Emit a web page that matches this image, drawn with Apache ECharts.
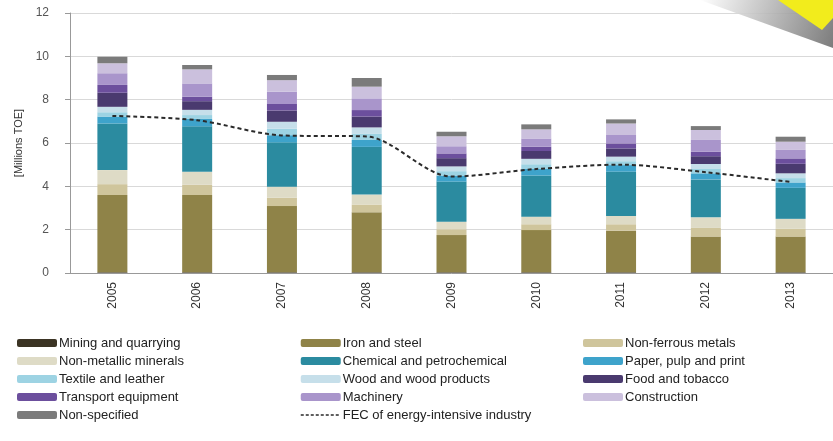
<!DOCTYPE html>
<html>
<head>
<meta charset="utf-8">
<script src="https://cdn.jsdelivr.net/npm/echarts@6/dist/echarts.min.js"></script>
<style>html,body{margin:0;padding:0;background:#fff;}#c{width:833px;height:441px;}</style>
</head>
<body>
<div id="c"></div>
<script>
const years = ['2005','2006','2007','2008','2009','2010','2011','2012','2013'];
const yTicks = [0, 2, 4, 6, 8, 10, 12];
const mining       = [0.03, 0.03, 0.03, 0.03, 0.03, 0.03, 0.03, 0.03, 0.03];
const ironSteel    = [3.57, 3.57, 3.06, 2.77, 1.72, 1.95, 1.92, 1.65, 1.65];
const nonFerrous   = [0.50, 0.47, 0.39, 0.36, 0.27, 0.27, 0.30, 0.40, 0.36];
const nonMetallic  = [0.65, 0.60, 0.50, 0.46, 0.35, 0.35, 0.38, 0.49, 0.46];
const chemical     = [2.15, 2.10, 2.05, 2.20, 1.85, 1.90, 2.05, 1.75, 1.43];
const paper        = [0.32, 0.34, 0.33, 0.32, 0.28, 0.30, 0.30, 0.28, 0.25];
const textile      = [0.20, 0.18, 0.30, 0.28, 0.20, 0.22, 0.18, 0.20, 0.20];
const wood         = [0.25, 0.24, 0.32, 0.30, 0.22, 0.25, 0.21, 0.23, 0.22];
const food         = [0.65, 0.40, 0.52, 0.50, 0.38, 0.36, 0.38, 0.36, 0.44];
const transport    = [0.36, 0.21, 0.30, 0.30, 0.22, 0.20, 0.23, 0.21, 0.25];
const machinery    = [0.54, 0.61, 0.57, 0.54, 0.33, 0.38, 0.39, 0.54, 0.39];
const construction = [0.46, 0.65, 0.53, 0.54, 0.46, 0.42, 0.53, 0.46, 0.38];
const nonSpecified = [0.30, 0.20, 0.24, 0.40, 0.21, 0.23, 0.19, 0.18, 0.23];
const fec          = [7.25, 7.05, 6.35, 6.30, 4.45, 4.80, 5.00, 4.65, 4.20];

const barDefs = [
  ['Mining and quarrying', mining, '#3b3424'],
  ['Iron and steel', ironSteel, '#8f8348'],
  ['Non-ferrous metals', nonFerrous, '#cfc59c'],
  ['Non-metallic minerals', nonMetallic, '#dedbc6'],
  ['Chemical and petrochemical', chemical, '#2b8ba0'],
  ['Paper, pulp and print', paper, '#3ea3cb'],
  ['Textile and leather', textile, '#9dd3e3'],
  ['Wood and wood products', wood, '#c6dfea'],
  ['Food and tobacco', food, '#4a3a6f'],
  ['Transport equipment', transport, '#6c4f9d'],
  ['Machinery', machinery, '#a995cb'],
  ['Construction', construction, '#cbc0dd'],
  ['Non-specified', nonSpecified, '#7b7b7b']
];
const FEC = 'FEC of energy-intensive industry';

const series = barDefs.map(d => ({
  name: d[0], type: 'bar', stack: 'total', data: d[1], barWidth: 30,
  itemStyle: {color: d[2]}, emphasis: {disabled: true}
}));
series.push({
  name: FEC, type: 'line', data: fec, smooth: 0.3, symbol: 'none', z: 10,
  lineStyle: {color: '#2a2a2a', width: 2, type: [4, 3]}, itemStyle: {color: '#2a2a2a'}
});

const font = 'Liberation Sans, Arial, sans-serif';
const legendBase = {
  orient: 'vertical', itemWidth: 40, itemHeight: 8, itemGap: 4,
  textStyle: {fontFamily: font, fontSize: 13, color: '#222', lineHeight: 14, padding: [0, 0, 0, -3]},
  selectedMode: false, padding: 0
};
const col1 = ['Mining and quarrying','Non-metallic minerals','Textile and leather','Transport equipment','Non-specified'];
const col2 = ['Iron and steel','Chemical and petrochemical','Wood and wood products','Machinery',
  {name: FEC, itemStyle: {opacity: 0}, lineStyle: {width: 1.5, type: [3, 2]}}];
const col3 = ['Non-ferrous metals','Paper, pulp and print','Food and tobacco','Construction'];

const chart = echarts.init(document.getElementById('c'), null, {renderer: 'canvas'});
chart.setOption({
  animation: false,
  backgroundColor: '#fff',
  grid: {left: 70, right: 0, top: 13, bottom: 168, containLabel: false},
  legend: [
    Object.assign({}, legendBase, {left: 17, top: 336, data: col1}),
    Object.assign({}, legendBase, {left: 300, top: 336, data: col2}),
    Object.assign({}, legendBase, {left: 583, top: 336, data: col3})
  ],
  xAxis: {
    type: 'category', data: years,
    axisLine: {lineStyle: {color: '#999'}},
    axisTick: {lineStyle: {color: '#999'}, length: 5},
    axisLabel: {rotate: 90, fontFamily: font, fontSize: 12, color: '#333', margin: 9}
  },
  yAxis: {
    type: 'value', min: yTicks[0], max: yTicks[yTicks.length - 1], interval: 2,
    name: '[Millions TOE]', nameLocation: 'middle', nameGap: 35, nameRotate: 90,
    nameTextStyle: {fontFamily: font, fontSize: 11, color: '#333'},
    axisLine: {show: true, lineStyle: {color: '#999'}},
    axisTick: {show: true, lineStyle: {color: '#999'}, length: 5},
    axisLabel: {fontFamily: font, fontSize: 12, color: '#555', margin: 21},
    splitLine: {lineStyle: {color: '#d9d9d9'}}
  },
  graphic: [
    {type: 'polygon', shape: {points: [[700, 0], [833, 0], [833, 48]]},
     style: {fill: new echarts.graphic.LinearGradient(0, 0, 1, 1, [{offset: 0, color: 'rgba(255,255,255,0.9)'}, {offset: 1, color: 'rgba(110,110,110,0.9)'}])}, z: 20},
    {type: 'polygon', shape: {points: [[778, 0], [833, 0], [833, 18], [822, 30]]},
     style: {fill: '#f2ec1c'}, z: 21}
  ],
  series: series
});
</script>
</body>
</html>
